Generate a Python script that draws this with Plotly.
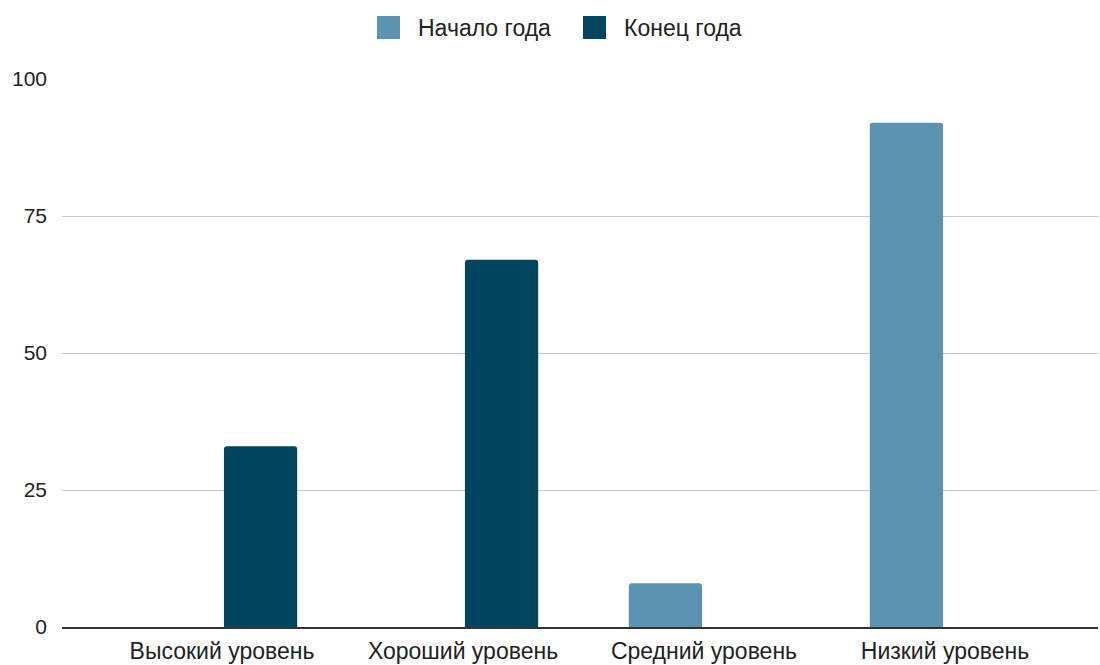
import plotly.graph_objects as go

categories = ["Высокий уровень", "Хороший уровень", "Средний уровень", "Низкий уровень"]
start_values = [0, 0, 8, 92]
end_values = [33, 67, 0, 0]
series_names = ["Начало года", "Конец года"]
y_ticks = [0, 25, 50, 75, 100]

c_start = "#5b93b0"
c_end = "#02455f"
font_family = "Arial, 'Liberation Sans', sans-serif"

fig = go.Figure()
fig.add_trace(go.Bar(x=categories, y=start_values, name=series_names[0],
                     marker=dict(color=c_start, line=dict(width=0)), showlegend=False))
fig.add_trace(go.Bar(x=categories, y=end_values, name=series_names[1],
                     marker=dict(color=c_end, line=dict(width=0)), showlegend=False))

# custom legend (larger squares like the reference)
legend_items = [(series_names[0], c_start, 377, 416), (series_names[1], c_end, 583, 622)]
for name, col, sx, tx in legend_items:
    fig.add_shape(type="rect", xref="paper", yref="paper",
                  x0=(sx - 62) / 1036, x1=(sx + 23 - 62) / 1036,
                  y0=(627 - 39) / 548, y1=(627 - 16) / 548,
                  fillcolor=col, line=dict(width=0))
    fig.add_annotation(text=name, xref="paper", yref="paper",
                       x=(tx - 62) / 1036, y=(627 - 28) / 548,
                       xanchor="left", yanchor="middle", showarrow=False,
                       font=dict(size=23, color="#222", family=font_family))

fig.update_layout(
    width=1100, height=665,
    margin=dict(l=62, r=2, t=79, b=38),
    paper_bgcolor="white", plot_bgcolor="white",
    barmode="group", bargap=0.36, bargroupgap=0.05, barcornerradius=3,
    font=dict(family=font_family, size=23, color="#222"),
    showlegend=False,
    xaxis=dict(range=[-0.664, 3.635], showgrid=False, showline=True,
               linecolor="#333", linewidth=2, ticks="", tickfont=dict(size=23),
               ticklabelstandoff=2),
    yaxis=dict(range=[0, 100], tickvals=y_ticks, showgrid=True, gridcolor="#c8c8c8",
               gridwidth=1, zeroline=False, showline=False, ticks="",
               ticklabelstandoff=14, tickfont=dict(size=21)),
)

fig.write_html("out.html")
